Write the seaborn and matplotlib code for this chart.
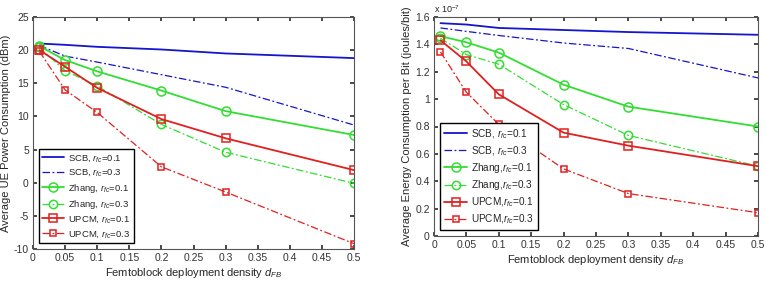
import matplotlib
matplotlib.use("Agg")
import matplotlib.pyplot as plt
import seaborn as sns
import numpy as np

density = [0.01, 0.05, 0.1, 0.2, 0.3, 0.5]

# Left: Average UE power consumption (dBm)
p_scb_01 = [21.0, 20.8, 20.5, 20.1, 19.5, 18.8]
p_scb_03 = [20.7, 19.1, 18.2, 16.3, 14.4, 8.7]
p_zhang_01 = [20.6, 18.5, 16.8, 13.9, 10.8, 7.2]
p_zhang_03 = [20.4, 16.9, 14.6, 8.8, 4.6, -0.1]
p_upcm_01 = [20.0, 17.5, 14.3, 9.6, 6.7, 1.9]
p_upcm_03 = [19.8, 14.0, 10.6, 2.4, -1.4, -9.2]

# Right: Average energy consumption per bit (x 1e-7 joules/bit)
e_scb_01 = [1.555, 1.545, 1.52, 1.505, 1.49, 1.47]
e_scb_03 = [1.52, 1.495, 1.465, 1.41, 1.37, 1.155]
e_zhang_01 = [1.46, 1.415, 1.34, 1.105, 0.945, 0.80]
e_zhang_03 = [1.445, 1.325, 1.255, 0.96, 0.735, 0.51]
e_upcm_01 = [1.43, 1.275, 1.035, 0.755, 0.66, 0.51]
e_upcm_03 = [1.345, 1.05, 0.815, 0.49, 0.31, 0.17]

labels_left = [r"SCB, $r_{fc}$=$\mathit{0.1}$", r"SCB, $r_{fc}$=$\mathit{0.3}$",
               r"Zhang, $r_{fc}$=$\mathit{0.1}$", r"Zhang, $r_{fc}$=$\mathit{0.3}$",
               r"UPCM, $r_{fc}$=$\mathit{0.1}$", r"UPCM, $r_{fc}$=$\mathit{0.3}$"]
labels_right = [r"SCB, $r_{fc}$=$\mathit{0.1}$", r"SCB, $r_{fc}$=$\mathit{0.3}$",
                r"Zhang,$r_{fc}$=$\mathit{0.1}$", r"Zhang,$r_{fc}$=$\mathit{0.3}$",
                r"UPCM,$r_{fc}$=$\mathit{0.1}$", r"UPCM,$r_{fc}$=$\mathit{0.3}$"]

xticks = [0, 0.05, 0.1, 0.15, 0.2, 0.25, 0.3, 0.35, 0.4, 0.45, 0.5]
xticklabels = ["0", "0.05", "0.1", "0.15", "0.2", "0.25", "0.3", "0.35", "0.4", "0.45", "0.5"]
left_yticks = [-10, -5, 0, 5, 10, 15, 20, 25]
right_yticks = [0, 0.2, 0.4, 0.6, 0.8, 1.0, 1.2, 1.4, 1.6]
right_yticklabels = ["0", "0.2", "0.4", "0.6", "0.8", "1", "1.2", "1.4", "1.6"]

sns.set_theme(style="white")
plt.rcParams['font.family'] = ['Liberation Sans', 'DejaVu Sans']
plt.rcParams['mathtext.fontset'] = 'custom'
plt.rcParams['mathtext.rm'] = 'Liberation Sans'
plt.rcParams['mathtext.it'] = 'Liberation Sans:italic'

blue = "#1515cc"
green = "#33dd33"
red = "#e02020"
DASHDOT = (0, (6, 2, 1.5, 2))
styles = [
    dict(color=blue, ls="-", lw=1.3, marker="None", ms=0),
    dict(color=blue, ls=DASHDOT, lw=0.9, marker="None", ms=0),
    dict(color=green, ls="-", lw=1.3, marker="o", ms=6.5),
    dict(color=green, ls=DASHDOT, lw=0.9, marker="o", ms=6),
    dict(color=red, ls="-", lw=1.3, marker="s", ms=6),
    dict(color=red, ls=DASHDOT, lw=0.9, marker="s", ms=5),
]

fig = plt.figure(figsize=(7.67, 2.85), dpi=100)
ax1 = fig.add_axes([33/767, 1-249/285, (354-33)/767, (249-17)/285])
ax2 = fig.add_axes([434/767, 1-236/285, (758-434)/767, (236-17)/285])

def draw(ax, series, labels, yticks, yticklabels, ylim, ylabel, legfs, lspace):
    for ys, lab, st in zip(series, labels, styles):
        sns.lineplot(x=density, y=ys, ax=ax, color=st["color"], legend=False)
        line = ax.lines[-1]
        line.set_label(lab)
        line.set_linestyle(st["ls"])
        line.set_linewidth(st["lw"])
        line.set_marker(st["marker"])
        if st["marker"] != "None":
            line.set_markersize(st["ms"])
            line.set_markerfacecolor("none")
            line.set_markeredgecolor(st["color"])
            line.set_markeredgewidth(1.1)
    ax.set_xlim(0, 0.5)
    ax.set_ylim(*ylim)
    ax.set_xticks(xticks)
    ax.set_xticklabels(xticklabels)
    ax.set_yticks(yticks)
    ax.set_yticklabels(yticklabels)
    ax.tick_params(direction="in", length=3, labelsize=7.5, top=True, right=True,
                   bottom=True, left=True, colors="#333333", pad=3)
    for sp in ax.spines.values():
        sp.set_color("#555555")
        sp.set_linewidth(0.8)
    ax.set_xlabel(r"Femtoblock deployment density $d_{FB}$", fontsize=8, labelpad=2)
    ax.set_ylabel(ylabel, fontsize=8, labelpad=2)
    leg = ax.legend(loc="lower left", fontsize=legfs, frameon=True, fancybox=False,
                    handlelength=2.3, handletextpad=0.4, borderaxespad=0.6,
                    labelspacing=lspace, borderpad=0.4)
    leg.get_frame().set_edgecolor("black")
    leg.get_frame().set_linewidth(1.0)
    leg.get_frame().set_alpha(1)

draw(ax1, [p_scb_01, p_scb_03, p_zhang_01, p_zhang_03, p_upcm_01, p_upcm_03],
     labels_left, left_yticks, [str(v) for v in left_yticks], (-10, 25),
     "Average UE Power Consumption (dBm)", 6.8, 0.35)
draw(ax2, [e_scb_01, e_scb_03, e_zhang_01, e_zhang_03, e_upcm_01, e_upcm_03],
     labels_right, right_yticks, right_yticklabels, (0, 1.6),
     "Average Energy Consumption per Bit (joules/bit)", 7.2, 0.33)
ax2.text(0.0, 1.01, r"x 10$^{-7}$", transform=ax2.transAxes, fontsize=6.5,
         ha="left", va="bottom", color="#222222")

fig.savefig("out.png", dpi=100)
